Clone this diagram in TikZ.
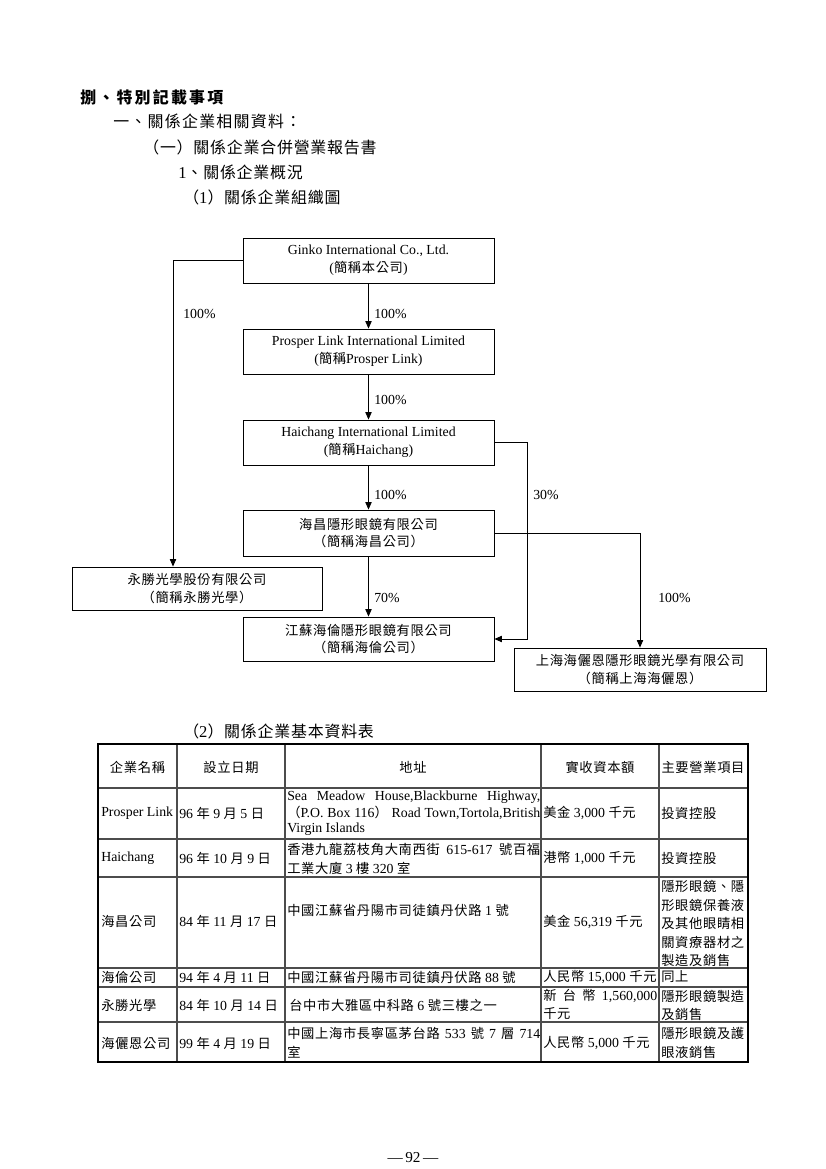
\documentclass[tikz,border=0pt]{standalone}
\usepackage{fontspec}
\setmainfont{Liberation Serif}
\newfontfamily\cjk[Scale=0.96,LetterSpace=5]{Noto Sans CJK TC}
\newfontfamily\cjkwide[Scale=0.96,LetterSpace=14]{Noto Sans CJK TC}
\newfontfamily\cjkmid[Scale=0.96,LetterSpace=8]{Noto Sans CJK TC}
\usetikzlibrary{arrows.meta,calc}
\newcommand\zh[1]{{\cjk #1}}
\newlength\pxu
\setlength\pxu{0.25424mm}
\tikzset{
  firm/.style={draw, line width=0.6pt, minimum width=251\pxu, minimum height=45\pxu,
    align=center, inner sep=0pt, font=\fontsize{10}{12.8}\selectfont},
  own/.style={line width=0.6pt, -{Triangle[length=1.9mm,width=1.6mm]}},
  pct/.style={anchor=west, inner sep=0pt, font=\fontsize{10}{12}\selectfont},
  hd/.style={anchor=west, inner sep=0pt, font=\fontsize{12}{14}\selectfont},
  tline/.style={line width=0.8pt, black!70},
  tframe/.style={line width=1.4pt},
  cell/.style={anchor=west, inner sep=0pt, font=\fontsize{10}{12}\selectfont},
  colhd/.style={inner sep=0pt, font=\fontsize{10}{12}\selectfont}
}
\begin{document}
\begin{tikzpicture}[x=0.25424mm, y=-0.25424mm]
  \useasboundingbox (0,0) rectangle (826,1169);
  % headings
  \node[hd, font=\fontsize{12}{14}\selectfont\bfseries] (hd1) at (80,97) {\cjkwide 捌、特別記載事項};
  \node[hd] (hd2) at (113,121) {\cjkmid 一、關係企業相關資料：};
  \node[hd] (hd3) at (143,147) {\zh{（一）關係企業合併營業報告書}};
  \node[hd] (hd4) at (178,172) {1\zh{、關係企業概況}};
  \node[hd] (hd5) at (183,197) {\zh{（}1\zh{）關係企業組織圖}};

  % organisation chart
  \node[firm] (ginko) at (368.5,260.5) {Ginko International Co., Ltd.\\(\zh{簡稱本公司})};
  \node[firm] (prosper) at (368.5,351.5) {Prosper Link International Limited\\(\zh{簡稱}Prosper Link)};
  \node[firm] (haichang) at (368.5,442.5) {Haichang International Limited\\(\zh{簡稱}Haichang)};
  \node[firm, minimum height=46\pxu] (hcco) at (368.5,533) {\zh{海昌隱形眼鏡有限公司}\\\zh{（簡稱海昌公司）}};
  \node[firm, minimum width=250\pxu, minimum height=43\pxu] (ysco) at (197,588.5) {\zh{永勝光學股份有限公司}\\\zh{（簡稱永勝光學）}};
  \node[firm, minimum height=44\pxu] (hlco) at (368.5,639) {\zh{江蘇海倫隱形眼鏡有限公司}\\\zh{（簡稱海倫公司）}};
  \node[firm, minimum width=252\pxu, minimum height=43\pxu] (shco) at (640,669.5) {\zh{上海海儷恩隱形眼鏡光學有限公司}\\\zh{（簡稱上海海儷恩）}};

  \draw[own] (ginko) -- (prosper);
  \draw[own] (prosper) -- (haichang);
  \draw[own] (haichang) -- (hcco);
  \draw[own] (hcco) -- (hlco);
  \draw[own] (ginko.west) -| ($(ysco.north)+(-24,0)$);
  \draw[own] (haichang.east) -- ++(33,0) |- (hlco.east);
  \draw[own] (hcco.east) -| (shco.north);

  \node[pct] (p1) at (183,314) {100\%};
  \node[pct] (p2) at (374,314) {100\%};
  \node[pct] (p3) at (374,400) {100\%};
  \node[pct] (p4) at (374,495) {100\%};
  \node[pct] (p5) at (533,495) {30\%};
  \node[pct] (p6) at (374,598) {70\%};
  \node[pct] (p7) at (658,598) {100\%};

  % basic data table
  \node[hd] (hd6) at (183,731) {\zh{（}2\zh{）關係企業基本資料表}};
  \foreach \cx in {177,285,541,659}
    \draw[tline] (\cx,744) -- (\cx,1062);
  \foreach \ry in {788,839,877,968,987,1022}
    \draw[tline] (98,\ry) -- (748,\ry);
  \draw[tframe] (98,744) rectangle (748,1062);

  \node[colhd] (c1) at (137.5,767) {\zh{企業名稱}};
  \node[colhd] (c2) at (231,767) {\zh{設立日期}};
  \node[colhd] (c3) at (413,767) {\zh{地址}};
  \node[colhd] (c4) at (600,767) {\zh{實收資本額}};
  \node[colhd] (c5) at (703,767) {\zh{主要營業項目}};

  \node[cell] (r1a) at (101,813) {Prosper Link};
  \node[cell] (r1b) at (179,813) {96 \zh{年} 9 \zh{月} 5 \zh{日}};
  \node[cell] (r1c) at (287,797) {\makebox[253\pxu][s]{Sea Meadow House,Blackburne Highway,}};
  \node[cell] (r1d) at (287,813) {\makebox[253\pxu][s]{\zh{（}P.O. Box 116\zh{）} Road Town,Tortola,British}};
  \node[cell] (r1e) at (287,829) {Virgin Islands};
  \node[cell] (r1f) at (543,813) {\zh{美金} 3,000 \zh{千元}};
  \node[cell] (r1g) at (661,813) {\zh{投資控股}};

  \node[cell] (r2a) at (101,858) {Haichang};
  \node[cell] (r2b) at (179,858) {96 \zh{年} 10 \zh{月} 9 \zh{日}};
  \node[cell] (r2c) at (287,849) {\makebox[253\pxu][s]{\zh{香港九龍荔枝角大南西街} 615-617 \zh{號百福}}};
  \node[cell] (r2d) at (287,868) {\zh{工業大廈} 3 \zh{樓} 320 \zh{室}};
  \node[cell] (r2f) at (543,858) {\zh{港幣} 1,000 \zh{千元}};
  \node[cell] (r2g) at (661,858) {\zh{投資控股}};

  \node[cell] (r3a) at (101,921) {\zh{海昌公司}};
  \node[cell] (r3b) at (179,921) {84 \zh{年} 11 \zh{月} 17 \zh{日}};
  \node[cell] (r3c) at (287,910) {\zh{中國江蘇省丹陽市司徒鎮丹伏路} 1 \zh{號}};
  \node[cell] (r3f) at (543,922) {\zh{美金} 56,319 \zh{千元}};
  \node[cell] (r3g) at (661,886) {\zh{隱形眼鏡、隱}};
  \node[cell] (r3h) at (661,905) {\zh{形眼鏡保養液}};
  \node[cell] (r3i) at (661,924) {\zh{及其他眼睛相}};
  \node[cell] (r3j) at (661,942) {\zh{關資療器材之}};
  \node[cell] (r3k) at (661,960) {\zh{製造及銷售}};

  \node[cell] (r4a) at (101,977) {\zh{海倫公司}};
  \node[cell] (r4b) at (179,977) {94 \zh{年} 4 \zh{月} 11 \zh{日}};
  \node[cell] (r4c) at (287,977) {\zh{中國江蘇省丹陽市司徒鎮丹伏路} 88 \zh{號}};
  \node[cell] (r4f) at (543,977) {\zh{人民幣} 15,000 \zh{千元}};
  \node[cell] (r4g) at (661,977) {\zh{同上}};

  \node[cell] (r5a) at (101,1005) {\zh{永勝光學}};
  \node[cell] (r5b) at (179,1005) {84 \zh{年} 10 \zh{月} 14 \zh{日}};
  \node[cell] (r5c) at (289,1005) {\zh{台中市大雅區中科路} 6 \zh{號三樓之一}};
  \node[cell] (r5f) at (543,996) {\makebox[114\pxu][s]{\zh{新} \zh{台} \zh{幣} 1,560,000}};
  \node[cell] (r5g) at (543,1014) {\zh{千元}};
  \node[cell] (r5h) at (661,996) {\zh{隱形眼鏡製造}};
  \node[cell] (r5i) at (661,1014) {\zh{及銷售}};

  \node[cell] (r6a) at (101,1043) {\zh{海儷恩公司}};
  \node[cell] (r6b) at (179,1043) {99 \zh{年} 4 \zh{月} 19 \zh{日}};
  \node[cell] (r6c) at (287,1033) {\makebox[253\pxu][s]{\zh{中國上海市長寧區茅台路} 533 \zh{號} 7 \zh{層} 714}};
  \node[cell] (r6d) at (287,1052) {\zh{室}};
  \node[cell] (r6f) at (543,1043) {\zh{人民幣} 5,000 \zh{千元}};
  \node[cell] (r6g) at (661,1033) {\zh{隱形眼鏡及護}};
  \node[cell] (r6h) at (661,1052) {\zh{眼液銷售}};

  % page number
  \node[colhd, font=\fontsize{11}{13}\selectfont] (pg) at (413,1158) {—\,92\,—};
\end{tikzpicture}
\end{document}
